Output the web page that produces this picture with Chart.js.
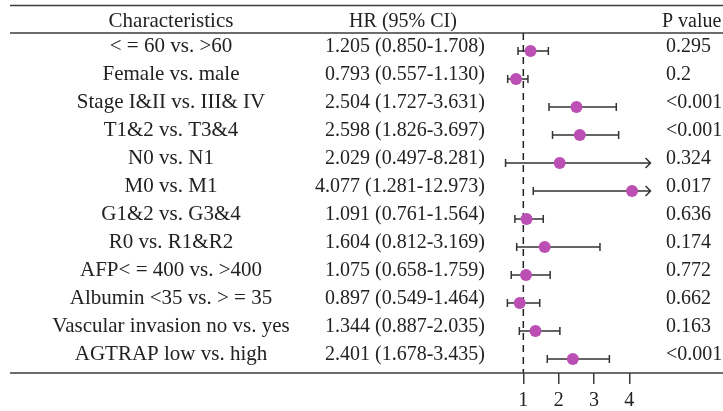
<!DOCTYPE html>
<html>
<head>
<meta charset="utf-8">
<script src="https://cdn.jsdelivr.net/npm/chart.js@4/dist/chart.umd.min.js"></script>
<style>
html,body{margin:0;padding:0;background:#fff;}
#wrap{width:723px;height:411px;}
</style>
</head>
<body>
<div id="wrap"><canvas id="c" width="723" height="411"></canvas></div>
<script>
const characteristics = [
  "< = 60 vs. >60",
  "Female vs. male",
  "Stage I&II vs. III& IV",
  "T1&2 vs. T3&4",
  "N0 vs. N1",
  "M0 vs. M1",
  "G1&2 vs. G3&4",
  "R0 vs. R1&R2",
  "AFP< = 400 vs. >400",
  "Albumin <35 vs. > = 35",
  "Vascular invasion no vs. yes",
  "AGTRAP low vs. high"
];
const hr    = [1.205, 0.793, 2.504, 2.598, 2.029, 4.077, 1.091, 1.604, 1.075, 0.897, 1.344, 2.401];
const lower = [0.850, 0.557, 1.727, 1.826, 0.497, 1.281, 0.761, 0.812, 0.658, 0.549, 0.887, 1.678];
const upper = [1.708, 1.130, 3.631, 3.697, 8.281, 12.973, 1.564, 3.169, 1.759, 1.464, 2.035, 3.435];
const pValues = ["0.295", "0.2", "<0.001", "<0.001", "0.324", "0.017", "0.636", "0.174", "0.772", "0.662", "0.163", "<0.001"];
const xTicks = [1, 2, 3, 4];
const headers = ["Characteristics", "HR (95% CI)", "P value"];
const refValue = 1;
const clipValue = 4.6;

const FONT = '"Liberation Serif", "DejaVu Serif", serif';
const TEXT_COLOR = '#222';
const LINE_COLOR = '#3c3c3c';

const tablePlugin = {
  id: 'forestTable',
  beforeDatasetsDraw(chart) {
    const ctx = chart.ctx;
    const xs = chart.scales.x, ys = chart.scales.y;
    const area = chart.chartArea;
    ctx.save();
    ctx.strokeStyle = '#222';
    ctx.lineWidth = 1.5;
    ctx.setLineDash([7, 5]);
    const rx = xs.getPixelForValue(refValue);
    ctx.beginPath();
    ctx.moveTo(rx, area.top);
    ctx.lineTo(rx, area.bottom);
    ctx.stroke();
    ctx.setLineDash([]);
    ctx.strokeStyle = '#333';
    ctx.lineWidth = 1.5;
    for (let i = 0; i < hr.length; i++) {
      const y = ys.getPixelForValue(i);
      const x1 = xs.getPixelForValue(lower[i]);
      const clipped = upper[i] > clipValue;
      const x2 = xs.getPixelForValue(clipped ? clipValue : upper[i]);
      ctx.beginPath();
      ctx.moveTo(x1, y); ctx.lineTo(x2, y);
      ctx.moveTo(x1, y - 4); ctx.lineTo(x1, y + 4);
      if (clipped) {
        ctx.moveTo(x2 - 5, y - 5); ctx.lineTo(x2, y); ctx.lineTo(x2 - 5, y + 5);
      } else {
        ctx.moveTo(x2, y - 4); ctx.lineTo(x2, y + 4);
      }
      ctx.stroke();
    }
    ctx.restore();
  },
  afterDraw(chart) {
    const ctx = chart.ctx;
    const ys = chart.scales.y;
    const area = chart.chartArea;
    const W = chart.width;
    ctx.save();
    ctx.strokeStyle = LINE_COLOR;
    ctx.lineWidth = 1.5;
    [5.5, area.top, area.bottom].forEach(y => {
      ctx.beginPath(); ctx.moveTo(10, y); ctx.lineTo(W, y); ctx.stroke();
    });
    ctx.fillStyle = TEXT_COLOR;
    ctx.textBaseline = 'middle';
    const hy = 21.5;
    ctx.font = '21px ' + FONT;
    ctx.textAlign = 'center';
    ctx.fillText(headers[0], 171, hy);
    ctx.font = '20px ' + FONT;
    ctx.fillText(headers[1], 403, hy);
    ctx.textAlign = 'left';
    ctx.fillText(headers[2], 662, hy);
    for (let i = 0; i < hr.length; i++) {
      const y = ys.getPixelForValue(i) - 4.5;
      ctx.font = '21px ' + FONT;
      ctx.textAlign = 'center';
      ctx.fillText(characteristics[i], 171, y);
      ctx.font = '20px ' + FONT;
      ctx.textAlign = 'right';
      ctx.fillText(hr[i].toFixed(3) + ' (' + lower[i].toFixed(3) + '-' + upper[i].toFixed(3) + ')', 485, y);
      ctx.textAlign = 'left';
      ctx.fillText(pValues[i], 666, y);
    }
    ctx.restore();
  }
};

new Chart(document.getElementById('c'), {
  type: 'scatter',
  data: {
    datasets: [{
      data: hr.map((v, i) => ({ x: v, y: i })),
      backgroundColor: '#bb4fb4',
      borderWidth: 0,
      pointRadius: 6,
      pointHoverRadius: 6
    }]
  },
  options: {
    responsive: false,
    animation: false,
    events: [],
    layout: { padding: { left: 488, right: 23, top: 33, bottom: 0 } },
    plugins: { legend: { display: false }, tooltip: { enabled: false } },
    scales: {
      x: {
        type: 'linear',
        min: 0,
        max: 6,
        afterBuildTicks: (scale) => { scale.ticks = xTicks.map(v => ({ value: v })); },
        afterFit: (scale) => { scale.height = 38; },
        border: { display: false },
        grid: { drawOnChartArea: false, drawTicks: true, tickLength: 11, color: LINE_COLOR, lineWidth: 1.5 },
        ticks: { padding: 7, color: TEXT_COLOR, font: { family: FONT, size: 20, lineHeight: 1 }, maxRotation: 0 }
      },
      y: {
        type: 'linear',
        reverse: true,
        min: -0.643,
        max: 11.5,
        display: false
      }
    }
  },
  plugins: [tablePlugin]
});
</script>
</body>
</html>
